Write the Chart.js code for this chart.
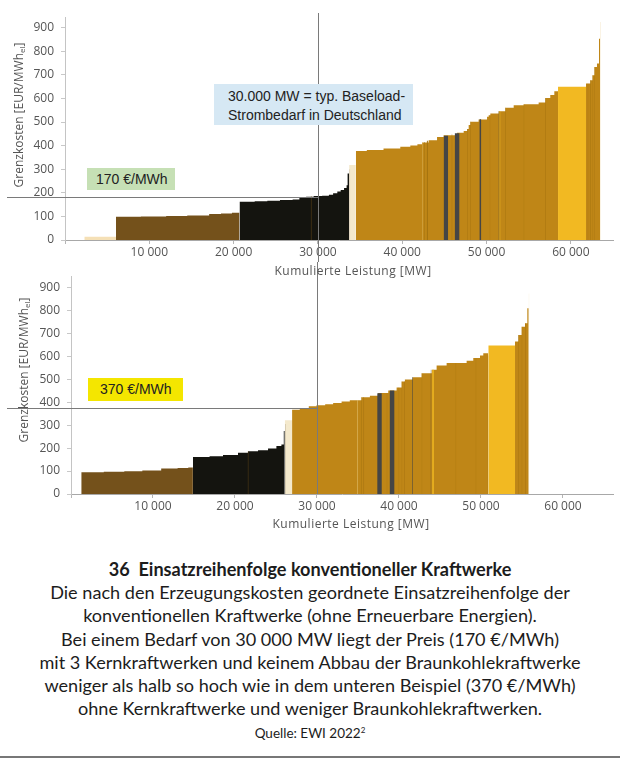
<!DOCTYPE html>
<html><head><meta charset="utf-8">
<script src="https://cdn.jsdelivr.net/npm/chart.js@4.4.1/dist/chart.umd.min.js"></script>
<style>
body{margin:0;background:#fff;}
#wrap{position:relative;width:620px;height:763px;overflow:hidden;font-family:"Open Sans",sans-serif;background:#fff;}
canvas{position:absolute;left:0;}
#c1{top:0;}
#c2{top:262px;}
.ann{position:absolute;font-family:"Liberation Sans",Arial,sans-serif;font-size:14px;color:#222;box-sizing:border-box;white-space:nowrap;}
.xt{position:absolute;font-size:12px;color:#555;letter-spacing:0.5px;transform:translate(-50%,-50%);white-space:nowrap;}
.yt{position:absolute;font-size:12px;color:#555;white-space:nowrap;transform:translate(-50%,-50%) rotate(-90deg);}
.yt sub{font-size:8px;vertical-align:-2px;line-height:0;}
#cap{position:absolute;top:558px;left:0;width:620px;text-align:center;font-family:Lato,sans-serif;font-size:18.1px;line-height:23.2px;color:#1c1c1c;}
#cap b{font-weight:bold;}
#src{font-size:13.5px;}
#src sup{font-size:8px;line-height:0;}
#rule{position:absolute;left:0;top:756px;width:620px;height:1.5px;background:#777;}
</style>
</head><body>
<div id="wrap">
<canvas id="c1" width="620" height="262"></canvas>
<canvas id="c2" width="620" height="278"></canvas>

<div class="ann" style="left:214px;top:84px;width:199px;height:41px;background:#d6e8f4;padding:3px 0 0 14px;line-height:19px;">30.000 MW = typ. Baseload-<br>Strombedarf in Deutschland</div>
<div class="ann" style="left:87px;top:168px;width:88px;height:22px;background:#c6e0b5;padding:0 0 0 9px;line-height:22px;">170 €/MWh</div>
<div class="ann" style="left:88px;top:378px;width:95px;height:23px;background:#f4e600;padding:0 0 0 12px;line-height:23px;">370 €/MWh</div>

<div class="xt" style="left:353px;top:270px;">Kumulierte Leistung [MW]</div>
<div class="xt" style="left:351px;top:523px;">Kumulierte Leistung [MW]</div>
<div class="yt" style="left:18px;top:115px;">Grenzkosten [EUR/MWh<sub>el</sub>]</div>
<div class="yt" style="left:23px;top:370px;">Grenzkosten [EUR/MWh<sub>el</sub>]</div>

<div id="cap">
<b>36&nbsp;&nbsp;Einsatzreihenfolge konventioneller Kraftwerke</b><br>
Die nach den Erzeugungskosten geordnete Einsatzreihenfolge der<br>
konventionellen Kraftwerke (ohne Erneuerbare Energien).<br>
Bei einem Bedarf von 30&#8239;000 MW liegt der Preis (170 €/MWh)<br>
mit 3&#8239;Kernkraftwerken und keinem Abbau der Braunkohlekraftwerke<br>
weniger als halb so hoch wie in dem unteren Beispiel (370 €/MWh)<br>
ohne Kernkraftwerke und weniger Braunkohlekraftwerken.<br>
<span id="src">Quelle: EWI 2022<sup>2</sup></span>
</div>
<div id="rule"></div>
</div>

<script>
// ===== DATA (MW start, EUR/MWh) – step blocks; last entry marks block end =====
// Top panel: with 3 nuclear plants
const topNuclear  = [[2290,14],[6050,14]];
const topLignite  = [[6050,98],[9000,100],[12000,102],[14500,104],[17100,110],[18500,112],[19800,115],[20700,115]];
const topHardCoal = [[20700,162],[22500,164],[24000,166],[25500,169],[27000,172],[27800,178],[28600,183],[29500,186],[30500,188],[31300,192],[31800,198],[32300,205],[32700,212],[33100,220],[33400,232],[33520,282],[33700,282]];
const topOther    = [[33700,318],[34500,318]];
const topGas      = [[34500,377],[35800,381],[37780,388],[39770,395],[40960,400],[41800,406],[42350,413],[43130,423],[44130,436],[44910,444],[46500,454],[47290,462],[47700,470],[47880,487],[48080,501],[49060,511],[50060,522],[50250,529],[50450,536],[51430,546],[52230,560],[53220,571],[54400,575],[56180,583],[56970,602],[57560,614],[58040,630],[58480,630]];
const topOil      = [[58480,649],[61800,649]];
const topPeak     = [[61800,663],[62300,677],[62570,698],[62800,733],[63100,748],[63340,853],[63460,853]];
const topSpike    = [[63460,924],[63530,924]];
// narrow units inside blocks: [MW start, MW end, EUR/MWh]
const topGasDark    = [[44910,45450,442],[46220,46800,452],[49150,49380,512],[51430,51520,546]];
const topGasLines   = [[42620,42700,415],[42900,43050,421],[45850,45950,448],[47680,47760,470],[48080,48160,501],[50370,50450,529],[52230,52310,560],[54400,54480,575],[56970,57050,602],[61990,62070,663],[62300,62380,677],[62570,62640,698],[62800,62870,733]];
const topGasLight   = [[42400,42480,413]];
const topGasYellow  = [[51520,51650,546]];
const topLigniteIn  = [[29150,29250,186]];
const topOtherLine  = [[33740,33820,300]];

// Bottom panel: without nuclear, less lignite
const botLignite  = [[1250,95],[4000,97],[6500,99],[8700,102],[11000,111],[13000,113],[14300,116],[14870,116]];
const botHardCoal = [[14870,161],[16900,165],[18540,170],[20370,180],[21590,187],[22810,191],[24030,199],[25050,209],[25660,216],[25950,275],[26070,275]];
const botOther    = [[26070,322],[26960,322]];
const botGas      = [[26960,368],[27900,375],[29000,383],[29940,387],[31000,392],[31970,397],[33000,403],[34000,409],[35430,422],[36450,429],[37460,440],[38690,451],[39710,465],[40320,491],[40720,499],[41660,509],[42760,527],[43980,542],[44590,560],[45810,571],[48250,581],[49060,593],[49880,604],[50280,614],[50890,614]];
const botOil      = [[50890,648],[54150,648]];
const botPeak     = [[54150,665],[54560,694],[54960,730],[55370,745],[55650,810],[55820,810]];
const botSpike    = [[55820,875],[55890,875]];
const botGasDark    = [[37340,37910,439],[38850,39460,451],[41610,41700,509],[43860,43940,542]];
const botGasLines   = [[35350,35450,422],[35650,35750,422],[38500,38580,440],[39950,40030,465],[40320,40400,491],[40620,40700,491],[42760,42840,527],[46900,46980,571],[49350,49430,593],[50810,50890,604],[54560,54640,694],[54960,55040,730],[55370,55450,745]];
const botGasLight   = [[34900,34980,409]];
const botGasYellow  = [[44050,44250,542]];
const botLigniteIn  = [[21550,21650,187]];
const botOtherLine  = [[26100,26180,305]];

// reference values
const DEMAND_MW = 30000;
const topPriceLine = 181;
const botPriceLine = 376;
// tick labels
const xTicks = [0,10000,20000,30000,40000,50000,60000];
const yTicks = [0,100,200,300,400,500,600,700,800,900];

// ===== STYLE =====
const C = {
  nuclear:'#f5e0b6', lignite:'#74511b', coal:'#14140f', other:'#f4e9cc', otherLine:'#b4a98f',
  gas:'#bf8617', oil:'#f2b922', dark:'#454545', gasLine:'#a3720f', light:'#efd48a', yellow:'#f4bd22', spike:'#efdcb0'
};

function steps(arr){ return arr.map(([x,y])=>({x,y})); }
function stripes(arr){ return arr.flatMap(([a,b,v])=>[{x:a,y:v},{x:b,y:v},{x:b,y:null}]); }
function ds(data,color){
  return {data, backgroundColor:color, borderColor:'rgba(0,0,0,0)', borderWidth:0, fill:'origin',
          stepped:true, pointRadius:0, pointHoverRadius:0, spanGaps:false, tension:0};
}
function fmt(v){ return String(v).replace(/\B(?=(\d{3})+(?!\d))/g,' '); }

const refLines = {
  id:'refLines',
  afterDatasetsDraw(chart, args, o){
    const {ctx, scales:{x,y}} = chart;
    const px = Math.round(x.getPixelForValue(o.vx)) + 0.5;
    const py = Math.round(y.getPixelForValue(o.hy)) + 0.5;
    ctx.save();
    ctx.strokeStyle = '#7a7a7a'; ctx.lineWidth = 1;
    ctx.beginPath();
    ctx.moveTo(7, py); ctx.lineTo(px, py);
    ctx.moveTo(px, o.vTop); ctx.lineTo(px, o.toAxis ? y.bottom : chart.height);
    ctx.stroke();
    ctx.restore();
  }
};

function makeChart(id, datasets, xMax, yMax, axisW, padTop, xAxisH, lineOpts){
  return new Chart(document.getElementById(id), {
    type:'line',
    data:{datasets},
    options:{
      responsive:false, animation:false, events:[],
      layout:{padding:{top:padTop,right:7,left:0,bottom:0}},
      plugins:{legend:{display:false}, tooltip:{enabled:false}, refLines:lineOpts},
      scales:{
        x:{type:'linear', min:0, max:xMax,
           afterBuildTicks:s=>{ s.ticks = xTicks.map(v=>({value:v})); },
           afterFit:s=>{s.height=xAxisH;},
           border:{display:true,color:'#a8a8a8',width:1},
           grid:{drawOnChartArea:false, drawTicks:true, tickLength:4, color:'#b5b5b5'},
           ticks:{autoSkip:false, padding:1, color:'#555', maxRotation:0,
                  font:{family:'"Open Sans"', size:12}, callback:v=> v===0 ? '' : fmt(v)}},
        y:{min:0, max:yMax,
           afterBuildTicks:s=>{ s.ticks = yTicks.map(v=>({value:v})); },
           afterFit:s=>{s.width=axisW;},
           border:{display:true,color:'#c4c4c4',width:1},
           grid:{drawOnChartArea:false, drawTicks:true, tickLength:4, color:'#c8c8c8'},
           ticks:{autoSkip:false, padding:7, color:'#555',
                  font:{family:'"Open Sans"', size:12}}}
      }
    },
    plugins:[refLines]
  });
}

makeChart('c1', [
  ds(stripes(topGasDark), C.dark),
  ds(stripes(topGasLines), C.gasLine),
  ds(stripes(topGasLight), C.light),
  ds(stripes(topGasYellow), C.yellow),
  ds(stripes(topLigniteIn), C.lignite),
  ds(stripes(topOtherLine), C.otherLine),
  ds(steps(topNuclear), C.nuclear),
  ds(steps(topLignite), C.lignite),
  ds(steps(topHardCoal), C.coal),
  ds(steps(topOther), C.other),
  ds(steps(topGas), C.gas),
  ds(steps(topOil), C.oil),
  ds(steps(topPeak), C.gas),
  ds(steps(topSpike), C.spike)
], 65000, 945, 65, 17, 22, {vx:DEMAND_MW, hy:topPriceLine, vTop:13, toAxis:false});

makeChart('c2', [
  ds(stripes(botGasDark), C.dark),
  ds(stripes(botGasLines), C.gasLine),
  ds(stripes(botGasLight), C.light),
  ds(stripes(botGasYellow), C.yellow),
  ds(stripes(botLigniteIn), C.lignite),
  ds(stripes(botOtherLine), C.otherLine),
  ds(steps(botLignite), C.lignite),
  ds(steps(botHardCoal), C.coal),
  ds(steps(botOther), C.other),
  ds(steps(botGas), C.gas),
  ds(steps(botOil), C.oil),
  ds(steps(botPeak), C.gas),
  ds(steps(botSpike), C.spike)
], 66100, 950, 71, 13, 46, {vx:DEMAND_MW, hy:botPriceLine, vTop:0, toAxis:true});
</script>
</body></html>
